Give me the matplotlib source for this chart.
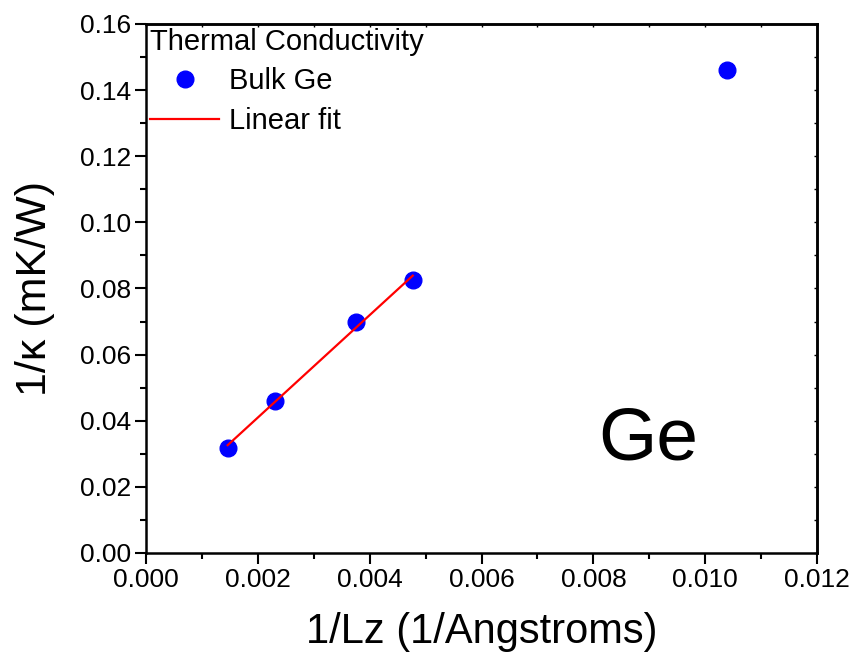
import numpy as np
import matplotlib
matplotlib.use("Agg")
import matplotlib.pyplot as plt
from matplotlib.ticker import MultipleLocator

plt.rcParams['font.family'] = ['Liberation Sans', 'DejaVu Sans']

# data
inv_lz = [0.00146, 0.00231, 0.00376, 0.00477, 0.01039]
inv_kappa = [0.0319, 0.0460, 0.0700, 0.0826, 0.1461]
fit_x = inv_lz[:4]
fit_y = inv_kappa[:4]

fig = plt.figure(figsize=(8.56, 6.66), dpi=100)
ax = fig.add_axes([0.1706, 0.1697, 0.7839, 0.7943])

ax.plot(inv_lz, inv_kappa, 'o', color='#0000ff', markersize=12, label='Bulk Ge', zorder=3)

slope, icpt = np.polyfit(fit_x, fit_y, 1)
xs = np.array([min(fit_x), max(fit_x)])
ax.plot(xs, slope * xs + icpt, '-', color='#ff0000', lw=1.6, label='Linear fit', zorder=4)

ax.set_xlim(0, 0.012)
ax.set_ylim(0, 0.16)
ax.xaxis.set_major_locator(MultipleLocator(0.002))
ax.xaxis.set_minor_locator(MultipleLocator(0.001))
ax.yaxis.set_major_locator(MultipleLocator(0.02))
ax.yaxis.set_minor_locator(MultipleLocator(0.01))
ax.xaxis.set_major_formatter(plt.FormatStrFormatter('%.3f'))
ax.yaxis.set_major_formatter(plt.FormatStrFormatter('%.2f'))

ax.tick_params(which='both', direction='out', width=1.5)
ax.tick_params(which='major', length=8, labelsize=19, pad=3)
ax.tick_params(which='minor', length=4)
# tiny ticks on the top and right frame
ax2 = ax.secondary_xaxis('top')
ax2.xaxis.set_major_locator(MultipleLocator(0.001))
ax2.tick_params(direction='in', length=2, width=1, labeltop=False)
ax3 = ax.secondary_yaxis('right')
ax3.yaxis.set_major_locator(MultipleLocator(0.01))
ax3.tick_params(direction='in', length=2, width=1, labelright=False)
for s in ax.spines.values():
    s.set_linewidth(1.8)
ax2.spines['top'].set_linewidth(1.8)
ax3.spines['right'].set_linewidth(1.8)

ax.set_xlabel('1/Lz (1/Angstroms)', fontsize=30, labelpad=14)
ax.set_ylabel('1/\u03ba (mK/W)', fontsize=31, labelpad=18)

ax.text(0.00898, 0.0342, 'Ge', fontsize=54, ha='center', va='center')

leg = ax.legend(loc='upper left', title='Thermal Conductivity', frameon=False,
                fontsize=21, title_fontsize=21, borderaxespad=0.05,
                handlelength=2.35, handletextpad=0.35, labelspacing=0.4,
                borderpad=0.1)
leg._legend_box.align = 'left'
leg._legend_box.sep = 8

fig.savefig('out.png', dpi=100)
